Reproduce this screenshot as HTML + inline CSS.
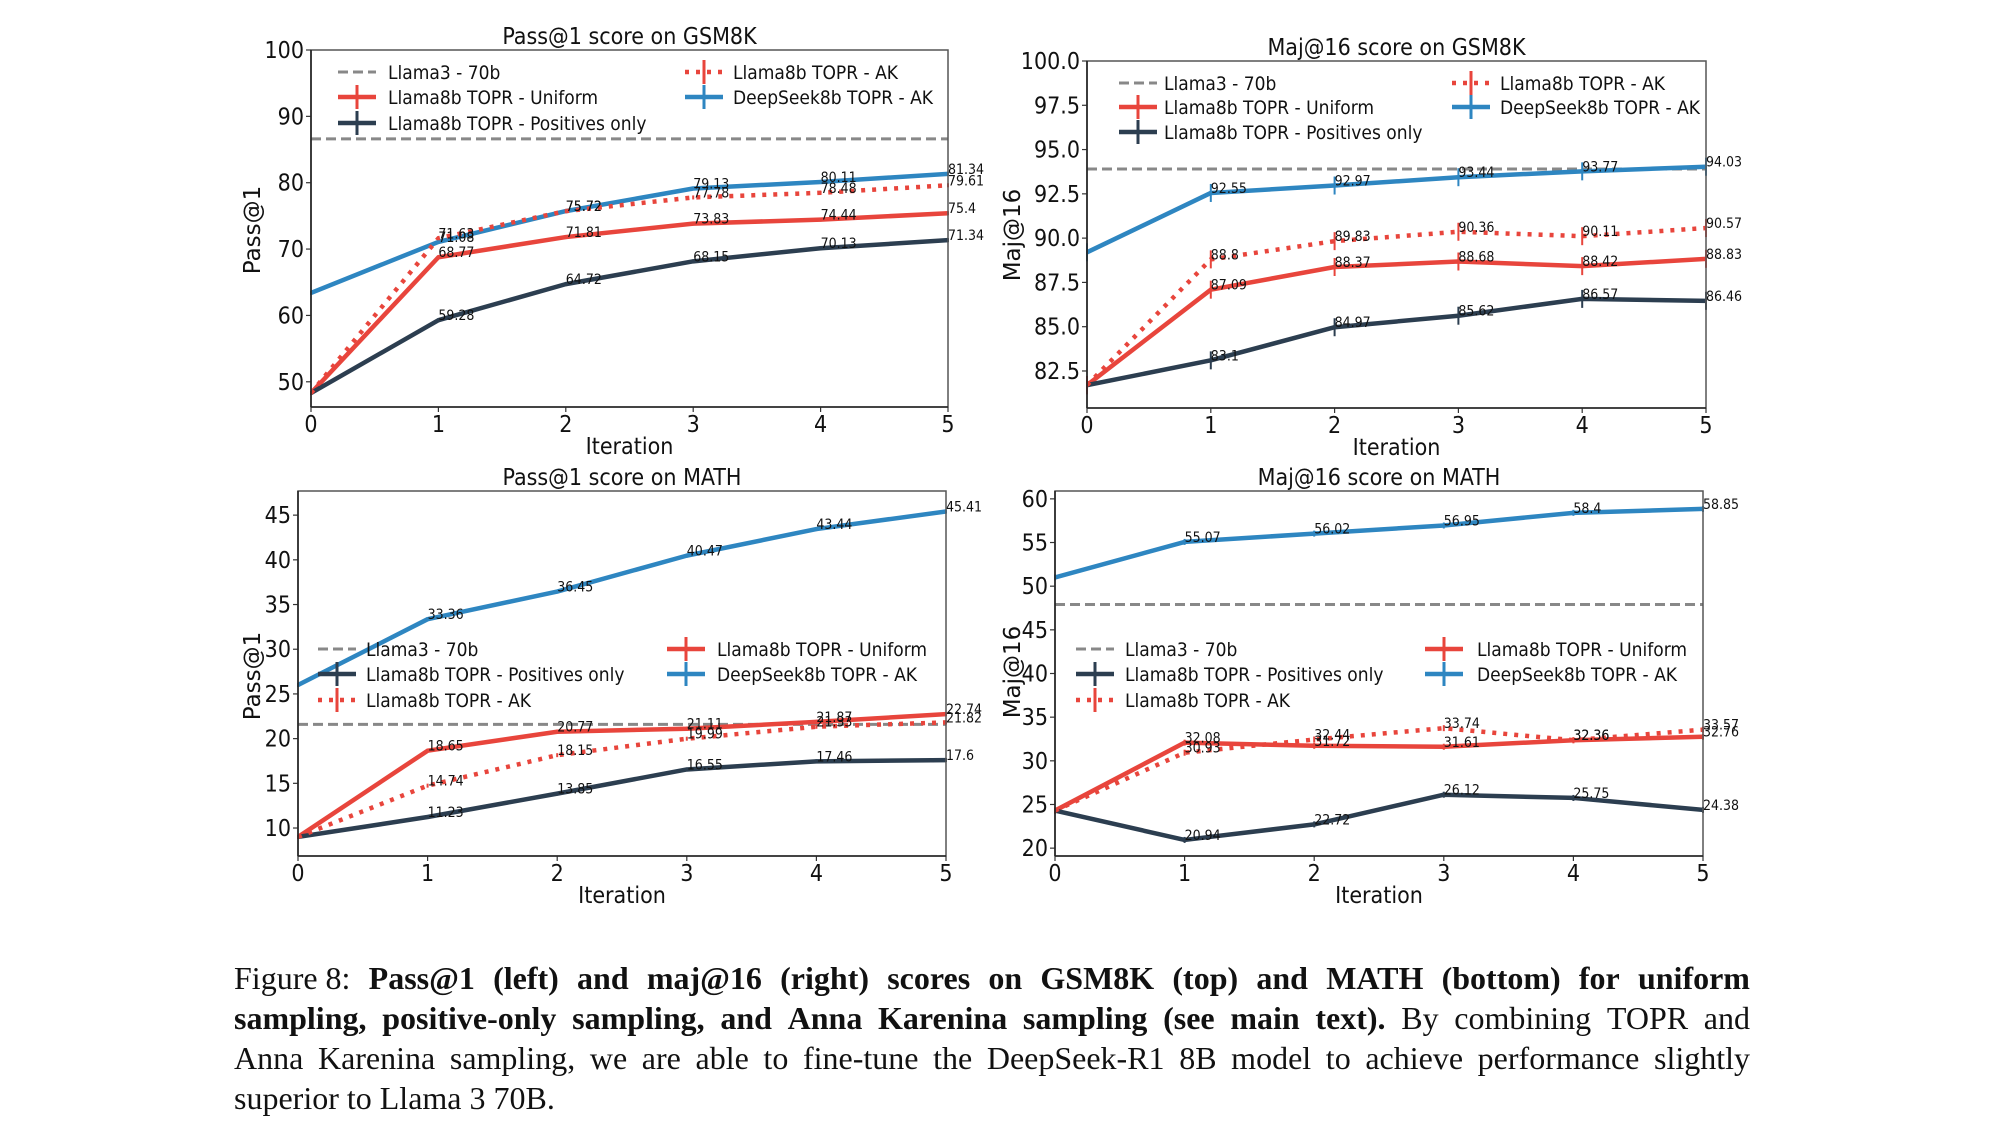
<!DOCTYPE html>
<html><head><meta charset="utf-8"><style>
body{margin:0;background:#fff;width:2016px;height:1128px;overflow:hidden;position:relative}
svg{position:absolute;left:0;top:0}
.cap{position:absolute;left:234px;width:1516px;font-family:"Liberation Serif",serif;font-size:32px;color:#111;}
.cap div{height:40px;line-height:40px;white-space:nowrap}
</style></head><body>
<svg id="fig" width="2016" height="940" xmlns="http://www.w3.org/2000/svg"></svg>
<div class="cap" style="top:958px">
<div style="display:flex;justify-content:space-between"><span>Figure&nbsp;8:</span><b>Pass@1</b><b>(left)</b><b>and</b><b>maj@16</b><b>(right)</b><b>scores</b><b>on</b><b>GSM8K</b><b>(top)</b><b>and</b><b>MATH</b><b>(bottom)</b><b>for</b><b>uniform</b></div>
<div style="display:flex;justify-content:space-between"><b>sampling,</b><b>positive-only</b><b>sampling,</b><b>and</b><b>Anna</b><b>Karenina</b><b>sampling</b><b>(see</b><b>main</b><b>text).</b><span>By</span><span>combining</span><span>TOPR</span><span>and</span></div>
<div style="display:flex;justify-content:space-between"><span>Anna</span><span>Karenina</span><span>sampling,</span><span>we</span><span>are</span><span>able</span><span>to</span><span>fine-tune</span><span>the</span><span>DeepSeek-R1</span><span>8B</span><span>model</span><span>to</span><span>achieve</span><span>performance</span><span>slightly</span></div>
<div>superior to Llama 3 70B.</div>
</div>
<script>
const iterations=[0,1,2,3,4,5];
// GSM8K Pass@1
const g1Llama70=86.6;
const g1Uniform=[48.3,68.77,71.81,73.83,74.44,75.4];
const g1AK=[48.3,71.63,75.72,77.78,78.48,79.61];
const g1Deep=[63.4,71.08,75.72,79.13,80.11,81.34];
const g1Pos=[48.3,59.28,64.72,68.15,70.13,71.34];
const g1Ticks=[50,60,70,80,90,100];
// GSM8K Maj@16
const g2Llama70=93.9;
const g2Uniform=[81.7,87.09,88.37,88.68,88.42,88.83];
const g2AK=[81.7,88.8,89.83,90.36,90.11,90.57];
const g2Deep=[89.2,92.55,92.97,93.44,93.77,94.03];
const g2Pos=[81.7,83.1,84.97,85.62,86.57,86.46];
const g2Ticks=["82.5","85.0","87.5","90.0","92.5","95.0","97.5","100.0"];
// MATH Pass@1
const m1Llama70=21.6;
const m1Uniform=[9.0,18.65,20.77,21.11,21.87,22.74];
const m1AK=[9.0,14.74,18.15,19.99,21.33,21.82];
const m1Deep=[26.0,33.36,36.45,40.47,43.44,45.41];
const m1Pos=[9.0,11.23,13.85,16.55,17.46,17.6];
const m1Ticks=[10,15,20,25,30,35,40,45];
// MATH Maj@16
const m2Llama70=47.9;
const m2Uniform=[24.3,32.08,31.72,31.61,32.36,32.76];
const m2AK=[24.3,30.93,32.44,33.74,32.36,33.57];
const m2Deep=[51.0,55.07,56.02,56.95,58.4,58.85];
const m2Pos=[24.3,20.94,22.72,26.12,25.75,24.38];
const m2Ticks=[20,25,30,35,40,45,50,55,60];

const NS="http://www.w3.org/2000/svg";
const svg=document.getElementById('fig');
const RED="#e8453c",DARK="#2c3e50",BLUE="#2e86c1",GRAY="#888";
const COND='"DejaVu Sans Condensed","DejaVu Sans",sans-serif';
function mk(tag,attrs,parent){const e=document.createElementNS(NS,tag);for(const k in attrs)e.setAttribute(k,attrs[k]);(parent||svg).appendChild(e);return e;}
function txt(s,attrs,parent){const e=mk('text',attrs,parent);e.textContent=s;return e;}

function chart(c){
  const g=mk('g',{});
  
  
  const sx=v=>c.L+(v-0)/(5-0)*(c.R-c.L);
  const sy=v=>c.B-(v-c.ymin)/(c.ymax-c.ymin)*(c.B-c.T);
  const t=txt(c.title,{x:(c.L+c.R)/2,y:c.T-6,'text-anchor':'middle','font-family':COND,'font-size':23,fill:'#111'},g);
  
  c.ticks.forEach(tk=>{const v=parseFloat(tk);const y=sy(v);
    mk('line',{x1:c.L-5,x2:c.L,y1:y,y2:y,stroke:'#333','stroke-width':1.2},g);
    const e=txt(String(tk),{x:c.L-7,y:y+8,'text-anchor':'end','font-family':COND,'font-size':23,fill:'#111'},g);
    });
  iterations.forEach(it=>{const x=sx(it);
    mk('line',{x1:x,x2:x,y1:c.B,y2:c.B+5,stroke:'#333','stroke-width':1.2},g);
    const e=txt(String(it),{x:x,y:c.B+25,'text-anchor':'middle','font-family':COND,'font-size':23,fill:'#111'},g);
    });
  const xl=txt('Iteration',{x:(c.L+c.R)/2,y:c.B+47,'text-anchor':'middle','font-family':COND,'font-size':23,fill:'#111'},g);
  
  const yl=txt(c.ylabel,{x:0,y:0,'text-anchor':'middle','font-family':'"DejaVu Sans",sans-serif','font-size':23,fill:'#111',transform:`translate(${c.yx},${c.yy}) rotate(-90)`},g);
  
  const cid='clip'+c.name;const cp=mk('clipPath',{id:cid},g);mk('rect',{x:c.L,y:c.T,width:c.R-c.L,height:c.B-c.T},cp);
  const pg=mk('g',{'clip-path':`url(#${cid})`},g);
  const ll=mk('line',{x1:c.L,x2:c.R,y1:sy(c.llama),y2:sy(c.llama),stroke:GRAY,'stroke-width':3,'stroke-dasharray':'10,5'},pg);
  
  const series=[
    {d:c.uni,col:RED,dash:null,name:'uniform-line'},
    {d:c.pos,col:DARK,dash:null,name:'positives-only-line'},
    {d:c.deep,col:BLUE,dash:null,name:'deepseek-ak-line'},
    {d:c.ak,col:RED,dash:'4,7',name:'ak-dotted-line'}];
  series.forEach(s=>{
    const pts=s.d.map((v,i)=>sx(iterations[i])+','+sy(v)).join(' ');
    const p=mk('polyline',{points:pts,fill:'none',stroke:s.col,'stroke-width':4.5,'stroke-linejoin':'round'},pg);
    if(s.dash)p.setAttribute('stroke-dasharray',s.dash);
    
    s.d.forEach((v,i)=>{const x=sx(iterations[i]),y=sy(v);const h=c.err;
      mk('line',{x1:x,x2:x,y1:y-h,y2:y+h,stroke:s.col,'stroke-width':2},g);});
  });
  series.forEach(s=>{s.d.forEach((v,i)=>{if(i===0)return;const x=sx(iterations[i]),y=sy(v);
    const e=txt(String(v),{x:x,y:y,'font-family':COND,'font-size':14,fill:'#111'},g);
    });});
  mk('rect',{x:c.L,y:c.T,width:c.R-c.L,height:c.B-c.T,fill:'none',stroke:'#555','stroke-width':1.5},g);
  mk('line',{x1:c.L,x2:c.L,y1:c.T,y2:c.B,stroke:'#222','stroke-width':1.6},g);
  mk('line',{x1:c.L,x2:c.R,y1:c.B,y2:c.B,stroke:'#222','stroke-width':1.6},g);
  const lg=mk('g',{},g);
  c.legend.forEach(it=>{
    const [hx,tx,y,label,col,dash]=it;
    const ln=mk('line',{x1:hx,x2:hx+38,y1:y,y2:y,stroke:col,'stroke-width':label.startsWith('Llama3')?3:4.5},lg);
    if(dash)ln.setAttribute('stroke-dasharray',dash);
    if(!label.startsWith('Llama3'))mk('line',{x1:hx+19,x2:hx+19,y1:y-12,y2:y+12,stroke:col,'stroke-width':3},lg);
    const e=txt(label,{x:tx,y:y+7,'font-family':COND,'font-size':19,fill:'#111'},lg);
    
  });
}
const L3='Llama3 - 70b',UN='Llama8b TOPR - Uniform',PO='Llama8b TOPR - Positives only',AK='Llama8b TOPR - AK',DS='DeepSeek8b TOPR - AK';
chart({name:'gsm8k-pass1-chart',title:'Pass@1 score on GSM8K',L:311,R:948,T:50,B:407,ymin:46.2,ymax:100,ticks:g1Ticks,llama:g1Llama70,uni:g1Uniform,ak:g1AK,deep:g1Deep,pos:g1Pos,ylabel:'Pass@1',yx:260,yy:230,err:2,
 legend:[[338,388,72,L3,GRAY,'10,5'],[338,388,97,UN,RED],[338,388,123,PO,DARK],[685,733,72,AK,RED,'4,7'],[685,733,97,DS,BLUE]]});
chart({name:'gsm8k-maj16-chart',title:'Maj@16 score on GSM8K',L:1087,R:1706,T:61,B:408,ymin:80.41,ymax:100,ticks:g2Ticks,llama:g2Llama70,uni:g2Uniform,ak:g2AK,deep:g2Deep,pos:g2Pos,ylabel:'Maj@16',yx:1020,yy:235,err:9,
 legend:[[1119,1164,83,L3,GRAY,'10,5'],[1119,1164,107,UN,RED],[1119,1164,132,PO,DARK],[1452,1500,83,AK,RED,'4,7'],[1452,1500,107,DS,BLUE]]});
chart({name:'math-pass1-chart',title:'Pass@1 score on MATH',L:298,R:946,T:491,B:856,ymin:6.87,ymax:47.7,ticks:m1Ticks,llama:m1Llama70,uni:m1Uniform,ak:m1AK,deep:m1Deep,pos:m1Pos,ylabel:'Pass@1',yx:260,yy:676,err:2,
 legend:[[318,366,649,L3,GRAY,'10,5'],[318,366,674,PO,DARK],[318,366,700,AK,RED,'4,7'],[667,717,649,UN,RED],[667,717,674,DS,BLUE]]});
chart({name:'math-maj16-chart',title:'Maj@16 score on MATH',L:1055,R:1703,T:491,B:856,ymin:19.1,ymax:60.9,ticks:m2Ticks,llama:m2Llama70,uni:m2Uniform,ak:m2AK,deep:m2Deep,pos:m2Pos,ylabel:'Maj@16',yx:1020,yy:672,err:3,
 legend:[[1076,1125,649,L3,GRAY,'10,5'],[1076,1125,674,PO,DARK],[1076,1125,700,AK,RED,'4,7'],[1425,1477,649,UN,RED],[1425,1477,674,DS,BLUE]]});
</script>
</body></html>
